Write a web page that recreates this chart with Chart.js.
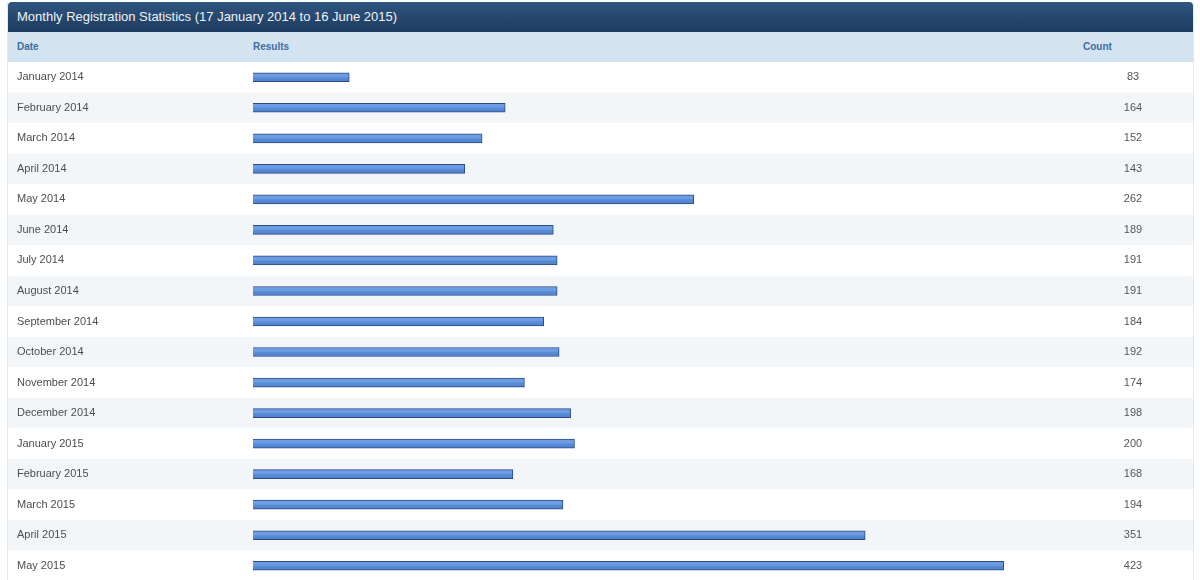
<!DOCTYPE html>
<html>
<head>
<meta charset="utf-8">
<script src="https://cdn.jsdelivr.net/npm/chart.js@4"></script>
<style>
  html, body { margin: 0; padding: 0; background: #fff; }
  body { width: 1200px; height: 580px; overflow: hidden; font-family: "Liberation Sans", Arial, sans-serif; }
  .panel { position: absolute; left: 7px; top: 2px; width: 1185px; border-left: 1px solid #e4e8ec; border-right: 1px solid #e4e8ec; }
  .panel-title {
    height: 30px; line-height: 30px; padding-left: 9px;
    background: linear-gradient(#30557f, #1d3b60);
    color: #eef3f8; font-size: 13px; border-radius: 4px 4px 0 0;
  }
  .panel-head { position: relative; height: 30px; background: #d4e3f0; color: #3a6ea5; font-size: 10px; font-weight: bold; }
  .panel-head span { position: absolute; top: 9px; }
  .panel-body { position: relative; width: 1185px; height: 519px; }
</style>
</head>
<body>
<div class="panel">
  <div class="panel-title">Monthly Registration Statistics (17 January 2014 to 16 June 2015)</div>
  <div class="panel-head">
    <span style="left:9px">Date</span>
    <span style="left:245px">Results</span>
    <span style="left:1075px">Count</span>
  </div>
  <div class="panel-body"><canvas id="regChart"></canvas></div>
</div>
<script>
// monthly registrations
const MONTHS = ['January 2014','February 2014','March 2014','April 2014','May 2014','June 2014',
  'July 2014','August 2014','September 2014','October 2014','November 2014','December 2014',
  'January 2015','February 2015','March 2015','April 2015','May 2015'];
const COUNTS = [83, 164, 152, 143, 262, 189, 191, 191, 184, 192, 174, 198, 200, 168, 194, 351, 423];

// ── Row stripes + count column ─────────────────────────────────────────────
const tablePlugin = {
  id: 'tableRows',
  beforeDraw(chart) {
    const { ctx, scales: { y }, width } = chart;
    const step = y.getPixelForValue(1) - y.getPixelForValue(0);
    ctx.save();
    MONTHS.forEach((m, i) => {
      const cy = y.getPixelForValue(i);
      ctx.fillStyle = i % 2 ? '#f3f6f9' : '#ffffff';
      ctx.fillRect(0, cy - step / 2, width, step);
    });
    ctx.restore();
  },
  afterDatasetsDraw(chart) {
    const { ctx, scales: { y } } = chart;
    ctx.save();
    ctx.fillStyle = '#555';
    ctx.font = '11px "Liberation Sans", Arial, sans-serif';
    ctx.textAlign = 'center';
    ctx.textBaseline = 'middle';
    COUNTS.forEach((c, i) => ctx.fillText(String(c), 1125, y.getPixelForValue(i)));
    ctx.restore();
  }
};

// glossy bar fill, built per row
function barFill(c) {
  const y = c.chart.scales.y;
  const cy = y && c.dataIndex !== undefined ? y.getPixelForValue(c.dataIndex) : NaN;
  if (!Number.isFinite(cy)) return '#5b8dd6';
  const g = c.chart.ctx.createLinearGradient(0, cy - 4.5, 0, cy + 4.5);
  g.addColorStop(0, '#6f9fe4');
  g.addColorStop(0.45, '#6a9ae2');
  g.addColorStop(0.55, '#5a8bd6');
  g.addColorStop(1, '#4f80cc');
  return g;
}

new Chart(document.getElementById('regChart'), {
  type: 'bar',
  data: {
    labels: MONTHS,
    datasets: [{
      data: COUNTS,
      backgroundColor: barFill,
      borderColor: '#294a82',
      borderWidth: 1,
      borderSkipped: false,
      barThickness: 9
    }]
  },
  options: {
    indexAxis: 'y',
    responsive: true,
    maintainAspectRatio: false,
    animation: false,
    layout: { padding: { left: 9, right: 41, top: 0, bottom: 0 } },
    plugins: { legend: { display: false }, tooltip: { enabled: false } },
    scales: {
      x: { display: false, min: 33, max: 500 },
      y: {
        grid: { display: false },
        border: { display: false },
        ticks: {
          crossAlign: 'far',
          color: '#4d4d4d',
          font: { family: '"Liberation Sans", Arial, sans-serif', size: 11 }
        },
        afterFit: s => { s.width = 236; s.paddingTop = 0; s.paddingBottom = 0; }
      }
    }
  },
  plugins: [tablePlugin]
});
</script>
</body>
</html>
